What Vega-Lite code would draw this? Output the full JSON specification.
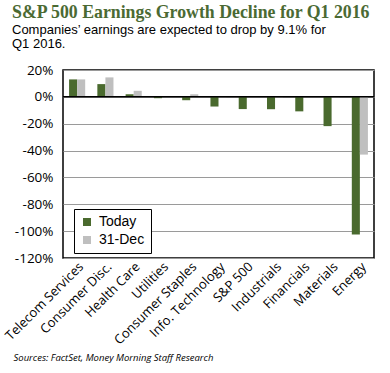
{
  "$schema": "https://vega.github.io/schema/vega-lite/v6.json",
  "width": 311,
  "height": 188,
  "autosize": {"type": "none"},
  "padding": {"left": 63, "top": 70, "right": 16, "bottom": 115},
  "background": "white",
  "title": {
    "text": "S&P 500 Earnings Growth Decline for Q1 2016",
    "subtitle": ["Companies’ earnings are expected to drop by 9.1% for", "Q1 2016."],
    "anchor": "start",
    "frame": "group",
    "dx": -51,
    "offset": 12,
    "font": "Liberation Serif",
    "fontSize": 17.8,
    "fontWeight": "bold",
    "color": "#4b6a33",
    "subtitleFont": "Liberation Sans",
    "subtitleFontSize": 13,
    "subtitleColor": "#000000",
    "subtitlePadding": 2,
    "subtitleLineHeight": 14
  },
  "config": {
    "view": {"stroke": "#000000", "strokeWidth": 1.5},
    "font": "Open Sans"
  },
  "layer": [
    {
      "data": {
        "values": [
          {"category": "Telecom Services", "series": "Today", "value": 13},
          {"category": "Telecom Services", "series": "31-Dec", "value": 13},
          {"category": "Consumer Disc.", "series": "Today", "value": 9.5},
          {"category": "Consumer Disc.", "series": "31-Dec", "value": 14.5},
          {"category": "Health Care", "series": "Today", "value": 2},
          {"category": "Health Care", "series": "31-Dec", "value": 4.5},
          {"category": "Utilities", "series": "Today", "value": -1},
          {"category": "Utilities", "series": "31-Dec", "value": 0.6},
          {"category": "Consumer Staples", "series": "Today", "value": -2.5},
          {"category": "Consumer Staples", "series": "31-Dec", "value": 2},
          {"category": "Info. Technology", "series": "Today", "value": -7.2},
          {"category": "Info. Technology", "series": "31-Dec", "value": -0.3},
          {"category": "S&P 500", "series": "Today", "value": -9.1},
          {"category": "S&P 500", "series": "31-Dec", "value": 0.5},
          {"category": "Industrials", "series": "Today", "value": -9.2},
          {"category": "Industrials", "series": "31-Dec", "value": -0.4},
          {"category": "Financials", "series": "Today", "value": -10.8},
          {"category": "Financials", "series": "31-Dec", "value": 0.5},
          {"category": "Materials", "series": "Today", "value": -21.8},
          {"category": "Materials", "series": "31-Dec", "value": -0.4},
          {"category": "Energy", "series": "Today", "value": -102.5},
          {"category": "Energy", "series": "31-Dec", "value": -43}
        ]
      },
      "mark": {"type": "bar"},
      "encoding": {
        "x": {
          "field": "category",
          "type": "nominal",
          "sort": null,
          "scale": {"paddingInner": 0.43, "paddingOuter": 0.215},
          "axis": {
            "title": "Sources: FactSet, Money Morning Staff Research",
            "titleX": -50,
            "titleY": 102,
            "titleAlign": "left",
            "titleAnchor": null,
            "titleBaseline": "alphabetic",
            "titleFontStyle": "italic",
            "titleFontWeight": "normal",
            "titleFontSize": 9.5,
            "titleColor": "#000000",
            "labelAngle": -45,
            "labelAlign": "right",
            "labelBaseline": "top",
            "ticks": false,
            "domain": false,
            "labelPadding": 2,
            "labelFontSize": 13,
            "labelColor": "#000000"
          }
        },
        "xOffset": {"field": "series", "type": "nominal", "sort": ["Today", "31-Dec"], "scale": {"paddingInner": 0, "paddingOuter": 0}},
        "y": {
          "field": "value",
          "type": "quantitative",
          "scale": {"domain": [-120, 20], "nice": false},
          "axis": {
            "title": null,
            "values": [20, 0, -20, -40, -60, -80, -100, -120],
            "labelExpr": "datum.value + '%'",
            "grid": true,
            "gridColor": "#9a9a9a",
            "ticks": false,
            "domain": false,
            "labelPadding": 10,
            "labelFontSize": 13.5,
            "labelColor": "#000000"
          }
        },
        "color": {
          "field": "series",
          "type": "nominal",
          "sort": ["Today", "31-Dec"],
          "scale": {"domain": ["Today", "31-Dec"], "range": ["#4a6a2e", "#bfbfbf"]},
          "legend": {
            "title": null,
            "orient": "none",
            "legendX": 11,
            "legendY": 139,
            "strokeColor": "#000000",
            "fillColor": "#ffffff",
            "padding": 6,
            "symbolType": "square",
            "symbolSize": 64,
            "symbolStrokeWidth": 0,
            "labelFont": "Liberation Sans",
            "labelFontSize": 14,
            "labelColor": "#000000",
            "rowPadding": 4,
            "labelOffset": 5
          }
        }
      }
    },
    {
      "data": {"values": [{"z": 0}]},
      "mark": {"type": "rule", "color": "#000000", "strokeWidth": 1.5},
      "encoding": {
        "y": {
          "field": "z",
          "type": "quantitative",
          "axis": {
            "title": null,
            "values": [20, 0, -20, -40, -60, -80, -100, -120],
            "labelExpr": "datum.value + '%'",
            "grid": true,
            "gridColor": "#9a9a9a",
            "ticks": false,
            "domain": false,
            "labelPadding": 10,
            "labelFontSize": 13.5,
            "labelColor": "#000000"
          }
        }
      }
    }
  ]
}
